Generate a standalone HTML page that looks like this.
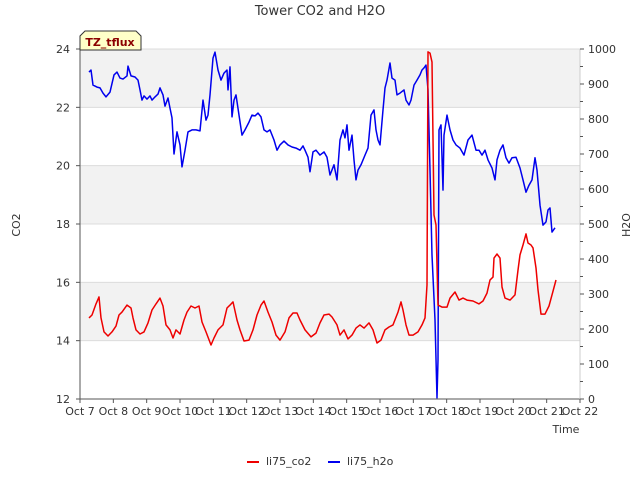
<!DOCTYPE html>
<html><head><meta charset="utf-8"><style>
body{margin:0;background:#fff;}
svg{display:block;font-family:"DejaVu Sans","Liberation Sans",sans-serif;}
</style></head><body>
<svg id="chart" width="640" height="480" xmlns="http://www.w3.org/2000/svg"></svg>
<script>
const xTickLabels=["Oct 7","Oct 8","Oct 9","Oct 10","Oct 11","Oct 12","Oct 13","Oct 14","Oct 15","Oct 16","Oct 17","Oct 18","Oct 19","Oct 20","Oct 21","Oct 22"];
const leftTicks=[12,14,16,18,20,22,24];
const rightTicks=[0,100,200,300,400,500,600,700,800,900,1000];
const co2Days=[0.27,0.36,0.48,0.57,0.63,0.72,0.84,0.96,1.08,1.17,1.26,1.41,1.53,1.59,1.68,1.80,1.92,2.04,2.16,2.28,2.40,2.49,2.58,2.70,2.79,2.88,3.00,3.12,3.21,3.33,3.45,3.57,3.66,3.78,3.93,4.02,4.14,4.29,4.41,4.50,4.59,4.71,4.80,4.92,5.07,5.19,5.31,5.43,5.52,5.64,5.76,5.88,6.00,6.15,6.27,6.39,6.51,6.60,6.75,6.93,7.08,7.20,7.32,7.47,7.56,7.71,7.80,7.92,8.04,8.16,8.28,8.40,8.52,8.67,8.79,8.91,9.03,9.15,9.27,9.39,9.54,9.63,9.69,9.78,9.87,9.99,10.14,10.26,10.35,10.41,10.44,10.50,10.56,10.62,10.68,10.74,10.86,11.01,11.10,11.25,11.37,11.49,11.61,11.79,11.97,12.09,12.21,12.30,12.39,12.42,12.51,12.60,12.66,12.75,12.90,13.05,13.14,13.20,13.29,13.38,13.44,13.53,13.59,13.68,13.74,13.83,13.95,14.07,14.16,14.28];
const co2Values=[14.78,14.88,15.26,15.50,14.78,14.30,14.16,14.30,14.50,14.88,14.98,15.22,15.12,14.78,14.37,14.23,14.30,14.61,15.05,15.26,15.46,15.19,14.54,14.37,14.09,14.37,14.23,14.71,14.98,15.19,15.12,15.19,14.64,14.30,13.85,14.09,14.37,14.54,15.12,15.22,15.33,14.71,14.37,13.99,14.02,14.37,14.88,15.22,15.36,14.98,14.64,14.19,14.02,14.30,14.78,14.95,14.95,14.71,14.37,14.13,14.26,14.61,14.88,14.91,14.81,14.54,14.19,14.37,14.06,14.19,14.43,14.54,14.43,14.61,14.37,13.92,14.02,14.37,14.47,14.54,14.98,15.33,15.05,14.54,14.19,14.19,14.30,14.54,14.78,15.91,23.90,23.86,23.55,18.31,17.97,15.22,15.15,15.15,15.46,15.67,15.39,15.46,15.39,15.36,15.26,15.36,15.63,16.08,16.18,16.83,16.97,16.83,15.84,15.46,15.39,15.57,16.42,16.94,17.28,17.66,17.35,17.28,17.18,16.49,15.74,14.91,14.91,15.19,15.57,16.08];
const h2oDays=[0.27,0.33,0.39,0.51,0.60,0.69,0.78,0.90,1.02,1.11,1.20,1.29,1.41,1.44,1.53,1.65,1.74,1.80,1.86,1.92,2.01,2.10,2.16,2.25,2.34,2.40,2.49,2.55,2.64,2.70,2.76,2.82,2.91,3.00,3.06,3.15,3.24,3.36,3.48,3.60,3.69,3.78,3.84,3.90,3.99,4.05,4.14,4.23,4.32,4.41,4.44,4.50,4.56,4.62,4.68,4.77,4.86,4.95,5.07,5.16,5.25,5.34,5.43,5.52,5.61,5.70,5.82,5.91,6.00,6.12,6.24,6.36,6.48,6.60,6.69,6.75,6.84,6.90,6.99,7.08,7.20,7.32,7.41,7.50,7.62,7.71,7.80,7.89,7.95,8.01,8.07,8.16,8.22,8.28,8.34,8.43,8.55,8.64,8.73,8.82,8.88,8.94,9.00,9.09,9.15,9.21,9.30,9.36,9.45,9.51,9.60,9.72,9.78,9.87,9.93,10.02,10.11,10.20,10.26,10.32,10.38,10.44,10.50,10.56,10.65,10.71,10.74,10.77,10.83,10.89,10.92,11.01,11.10,11.19,11.28,11.40,11.52,11.64,11.76,11.88,11.97,12.06,12.15,12.24,12.36,12.45,12.51,12.60,12.69,12.78,12.87,12.96,13.08,13.20,13.29,13.38,13.47,13.56,13.65,13.71,13.80,13.89,13.98,14.04,14.10,14.16,14.25];
const h2oValues=[934,940,897,891,889,874,863,877,926,934,917,914,923,951,923,920,911,883,854,866,857,866,854,863,871,889,869,837,860,831,803,700,763,726,663,711,763,769,769,766,854,797,811,869,974,991,940,911,931,940,883,949,806,854,869,811,754,769,791,811,809,817,806,769,763,769,740,711,726,737,726,720,717,711,723,711,691,649,706,711,697,706,691,640,669,626,740,769,746,783,711,754,683,626,654,669,697,717,811,826,769,740,726,826,889,911,960,917,911,869,874,883,854,840,854,897,911,926,940,946,954,883,654,411,226,3,111,769,783,597,754,811,769,740,726,717,697,740,754,711,711,697,711,683,660,626,683,711,726,689,674,689,691,660,626,591,611,626,689,654,554,497,506,540,546,477,489];

const NS="http://www.w3.org/2000/svg";
const svg=document.getElementById('chart');
const L=80,R=580,T=49,B=399;
const xS=d=>L+d*(R-L)/15;
const yL=v=>B-(v-12)*(B-T)/12;
const yR=v=>B-v*(B-T)/1000;
function mk(tag,attrs,parent){const e=document.createElementNS(NS,tag);for(const k in attrs)e.setAttribute(k,attrs[k]);(parent||svg).appendChild(e);return e;}
function txt(s,attrs,parent){const e=mk('text',attrs,parent);e.textContent=s;return e;}

// bands & grid
const grid=mk('g',{});


for(let i=0;i<leftTicks.length-1;i++){
  if(i%2===1){const r=mk('rect',{x:L,y:yL(leftTicks[i+1]),width:R-L,height:yL(leftTicks[i])-yL(leftTicks[i+1]),fill:'#f2f2f2'},grid);
  }
}
leftTicks.forEach(v=>{const l=mk('line',{x1:L,x2:R,y1:yL(v),y2:yL(v),stroke:'#dcdcdc','stroke-width':1},grid);
});

// axes
const ax=mk('g',{stroke:'#555','stroke-width':1,fill:'none'});


mk('line',{x1:L,x2:L,y1:T,y2:B},ax);
mk('line',{x1:L,x2:R,y1:B,y2:B},ax);
mk('line',{x1:R,x2:R,y1:T,y2:B,stroke:'#ccc'},ax);

const lt=mk('g',{'font-size':11,fill:'#333','text-anchor':'end'});


leftTicks.forEach(v=>{mk('line',{x1:L-4,x2:L,y1:yL(v),y2:yL(v),stroke:'#555'},lt);
  const t=txt(v,{x:L-10,y:yL(v)+4},lt);});

const rt=mk('g',{'font-size':11,fill:'#333','text-anchor':'start'});


rightTicks.forEach(v=>{mk('line',{x1:R,x2:R+4,y1:yR(v),y2:yR(v),stroke:'#555'},rt);
  const t=txt(v,{x:R+8,y:yR(v)+4},rt);
  if(v<1000)mk('line',{x1:R,x2:R+3,y1:yR(v+50),y2:yR(v+50),stroke:'#555'},rt);});

const xt=mk('g',{'font-size':11,fill:'#333','text-anchor':'middle'});


xTickLabels.forEach((s,i)=>{mk('line',{x1:xS(i),x2:xS(i),y1:B,y2:B+4,stroke:'#555'},xt);
  const t=txt(s,{x:xS(i),y:B+16},xt);});

function series(days,vals,ys,color,name){
  const d=days.map((x,i)=>(i?'L':'M')+xS(x).toFixed(1)+','+ys(vals[i]).toFixed(1)).join('');
  const p=mk('path',{d:d,fill:'none',stroke:color,'stroke-width':1.5,'stroke-linejoin':'round'});
  
  
}
series(h2oDays,h2oValues,yR,'#0000ee','h2o-line');
series(co2Days,co2Values,yL,'#ee0000','co2-line');
</script>
<svg style="position:absolute;left:0;top:0" width="640" height="480" xmlns="http://www.w3.org/2000/svg" font-family="DejaVu Sans, Liberation Sans, sans-serif">
<text x="320" y="15" font-size="13" fill="#333" text-anchor="middle">Tower CO2 and H2O</text>
<text x="20" y="225" font-size="11" fill="#333" text-anchor="middle" transform="rotate(-90 20 225)">CO2</text>
<text x="630" y="225" font-size="11" fill="#333" text-anchor="middle" transform="rotate(-90 630 225)">H2O</text>
<text x="566" y="433" font-size="11" fill="#333" text-anchor="middle">Time</text>
<g>
<path d="M80,50 L80,36 L85,31 L136,31 L141,36 L141,50 Z" fill="#ffffc8" stroke="#333" stroke-width="1"/>
<text x="110" y="46" font-size="11" font-weight="bold" fill="#8b0000" text-anchor="middle">TZ_tflux</text>
</g>
<g font-size="11" fill="#333">
<g><line x1="247" x2="259" y1="462" y2="462" stroke="#ee0000" stroke-width="2"/><text x="266" y="465">li75_co2</text></g>
<g><line x1="328" x2="340" y1="462" y2="462" stroke="#0000ee" stroke-width="2"/><text x="347" y="465">li75_h2o</text></g>
</g>
</svg>
</body></html>
